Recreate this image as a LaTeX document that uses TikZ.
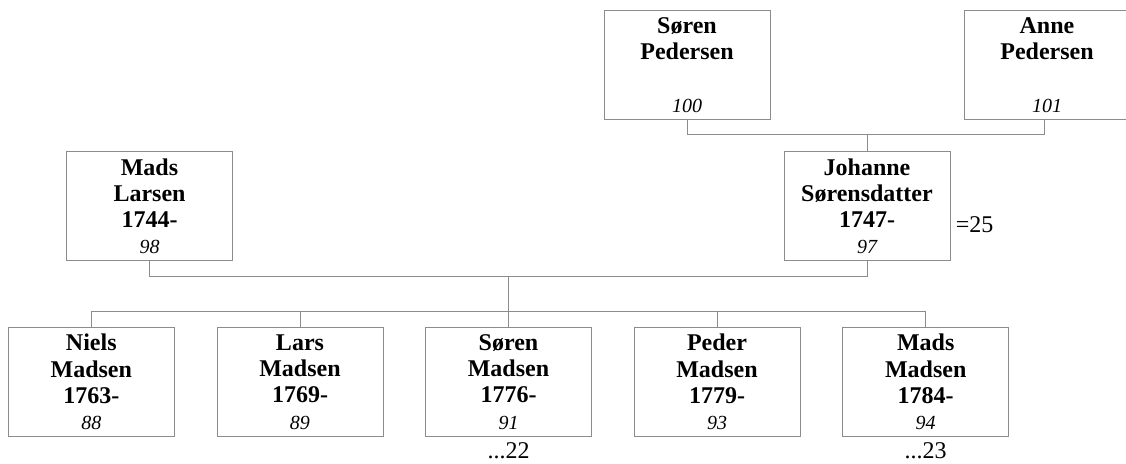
\documentclass[tikz,border=0pt]{standalone}
\usepackage{fontspec}
\setmainfont{Liberation Serif}
\definecolor{boxgray}{RGB}{140,140,140}
\begin{document}
\begin{tikzpicture}[x=0.5pt,y=-0.5pt,
  person/.style={draw=boxgray, line width=0.5pt, fill=white,
    minimum width=83pt, minimum height=54.5pt, inner sep=0pt,
    text width=80pt, align=center,
    font=\fontsize{12}{13.1}\selectfont\bfseries},
  link/.style={draw=boxgray, line width=0.5pt},
  note/.style={font=\fontsize{12}{13}\selectfont, inner sep=0pt}]
\useasboundingbox (0,0) rectangle (1126,464);
\newcommand{\refno}[1]{{\fontsize{10}{13.1}\selectfont\mdseries\itshape #1}}
% grandparents
\node[person] (sp) at (687,65) {Søren\\Pedersen\\\mbox{}\\\refno{100}};
\node[person] (ap) at (1047,65) {Anne\\Pedersen\\\mbox{}\\\refno{101}};
% parents
\node[person] (ml) at (149.5,206.3) {Mads\\Larsen\\1744-\\\refno{98}};
\node[person] (js) at (867,206.3) {Johanne\\Sørensdatter\\1747-\\\refno{97}};
% children
\node[person] (c1) at (91.3,382) {Niels\\Madsen\\1763-\\\refno{88}};
\node[person] (c2) at (300,382) {Lars\\Madsen\\1769-\\\refno{89}};
\node[person] (c3) at (508.5,382) {Søren\\Madsen\\1776-\\\refno{91}};
\node[person] (c4) at (717,382) {Peder\\Madsen\\1779-\\\refno{93}};
\node[person] (c5) at (925.7,382) {Mads\\Madsen\\1784-\\\refno{94}};
% notes
\node[note, anchor=west] (n25) at ([xshift=2.5pt]js.east |- 0,225) {=25};
\node[note] (n22) at (c3.south |- 0,451) {...22};
\node[note] (n23) at (c5.south |- 0,451) {...23};
% connectors
\coordinate (gpm) at (867,135);
\draw[link] (sp.south) -- (sp.south |- gpm) -- ([xshift=-1.5pt]ap.south |- gpm) -- ([xshift=-1.5pt]ap.south);
\draw[link] (gpm) -- (js.north);
\coordinate (pm) at (508.5,277);
\draw[link] (ml.south) -- (ml.south |- pm) -- (js.south |- pm) -- (js.south);
\coordinate (cm) at (508.5,312);
\draw[link] (pm) -- (cm);
\draw[link] (c1.north |- cm) -- (c5.north |- cm);
\foreach \c in {c1,c2,c3,c4,c5} \draw[link] (\c.north |- cm) -- (\c.north);
\end{tikzpicture}
\end{document}
